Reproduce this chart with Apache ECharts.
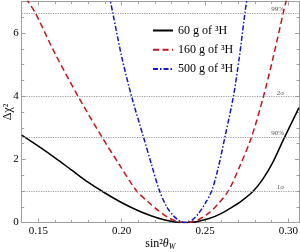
<!DOCTYPE html>
<html>
<head>
<meta charset="utf-8">
<script src="https://cdn.jsdelivr.net/npm/echarts@6/dist/echarts.min.js"></script>
<style>html,body{margin:0;padding:0;background:#fff}#c{width:300px;height:252px}</style>
</head>
<body>
<div id="c"></div>
<script>
// ---- data ----
const names = ['60 g of ³H', '160 g of ³H', '500 g of ³H'];

const blackX = [0.140,0.150,0.160,0.170,0.180,0.188,0.199,0.209,0.218,0.226,0.232,0.237,0.242,0.245,0.252,0.259,0.265,0.272,0.279,0.285,0.291,0.297,0.3064];
const blackY = [2.77,2.42,2.05,1.66,1.27,1.00,0.66,0.40,0.21,0.08,0.02,0.00,0.01,0.03,0.12,0.27,0.45,0.69,1.00,1.40,1.94,2.62,3.64];

const redX = [0.1425,0.148,0.160,0.174,0.188,0.199,0.209,0.216,0.222,0.229,0.234,0.238,0.242,0.246,0.253,0.258,0.264,0.271,0.278,0.285,0.291,0.297,0.2995];
const redY = [7.10,6.65,5.35,3.98,2.72,1.80,1.00,0.65,0.38,0.13,0.03,0.00,0.02,0.09,0.33,0.60,1.00,1.80,2.72,3.98,5.25,6.65,7.20];

const blueX = [0.1925,0.1946,0.200,0.206,0.213,0.218,0.2226,0.227,0.231,0.234,0.236,0.238,0.240,0.242,0.246,0.250,0.254,0.258,0.262,0.267,0.2705,0.274,0.2755];
const blueY = [7.20,6.65,5.25,3.98,2.72,1.82,1.02,0.50,0.22,0.08,0.02,0.00,0.02,0.07,0.28,0.60,1.00,1.75,2.72,3.98,5.20,6.65,7.20];

const levels = [6.63, 4, 2.71, 1];
const levelLabels = ['99%', '2σ', '90%', '1σ'];

const xMajor = [0.15, 0.20, 0.25, 0.30];
const xMinor = [0.14,0.15,0.16,0.17,0.18,0.19,0.20,0.21,0.22,0.23,0.24,0.25,0.26,0.27,0.28,0.29,0.30];
const yMajor = [0, 2, 4, 6];
const yMinor = [0,0.5,1,1.5,2,2.5,3,3.5,4,4.5,5,5.5,6,6.5,7];

const X_MIN = 0.14, X_MAX = 0.3064, Y_MIN = 0, Y_MAX = 7;

// ---- chart ----
const FONT = 'Liberation Serif';
const frame = '#a0a0a0';
function pairs(xs, ys) { return xs.map((x, i) => [x, ys[i]]); }

function xAx(pos, ticks, len, withLabel, showLine) {
  return {
    type: 'value', position: pos, min: X_MIN, max: X_MAX, gridIndex: 0,
    axisLine: { show: showLine, onZero: false, lineStyle: { color: frame, width: 1 } },
    axisTick: { show: true, inside: true, length: len, customValues: ticks, lineStyle: { color: frame } },
    axisLabel: withLabel ? { show: true, customValues: xMajor, formatter: v => v.toFixed(2), fontFamily: FONT, fontSize: 11, color: '#000', margin: 3 } : { show: false },
    splitLine: { show: false }
  };
}
function yAx(pos, ticks, len, withLabel, showLine) {
  return {
    type: 'value', position: pos, min: Y_MIN, max: Y_MAX, gridIndex: 0,
    axisLine: { show: showLine, onZero: false, lineStyle: { color: frame, width: 1 } },
    axisTick: { show: true, inside: true, length: len, customValues: ticks, lineStyle: { color: frame } },
    axisLabel: withLabel ? { show: true, customValues: yMajor, formatter: v => String(v), fontFamily: FONT, fontSize: 11, color: '#000', margin: 3 } : { show: false },
    splitLine: { show: false }
  };
}

const xAxes = [
  xAx('bottom', xMajor, 4, true, true),
  xAx('bottom', xMinor, 2.5, false, false),
  xAx('top', xMajor, 4, false, true),
  xAx('top', xMinor, 2.5, false, false)
];
Object.assign(xAxes[0], {
  name: '{a|sin²}{t|θ}{w|W}', nameLocation: 'middle', nameGap: 14, nameMoveOverlap: false,
  nameTextStyle: { fontFamily: FONT, color: '#000', rich: {
    a: { fontFamily: FONT, fontSize: 12, color: '#000' },
    t: { fontFamily: FONT, fontSize: 12, fontStyle: 'italic', color: '#000' },
    w: { fontFamily: FONT, fontSize: 8, fontStyle: 'italic', color: '#000', padding: [6, 0, 0, 0] }
  } }
});
const yAxes = [
  yAx('left', yMajor, 4, true, true),
  yAx('left', yMinor, 2.5, false, false),
  yAx('right', yMajor, 4, false, true),
  yAx('right', yMinor, 2.5, false, false)
];
Object.assign(yAxes[0], {
  name: 'Δχ²', nameLocation: 'middle', nameGap: 8, nameRotate: 90, nameMoveOverlap: false,
  nameTextStyle: { fontFamily: FONT, fontSize: 12, color: '#000' }
});

const lineBase = { type: 'line', xAxisIndex: 0, yAxisIndex: 0, symbol: 'none', showSymbol: false, smooth: 0.3, clip: true, animation: false };

const option = {
  animation: false,
  grid: { left: 21.7, right: 1, top: 1.4, bottom: 29.4, containLabel: false, outerBoundsMode: 'none' },
  xAxis: xAxes,
  yAxis: yAxes,
  legend: {
    orient: 'vertical', left: 147, top: 19.5, itemWidth: 20, itemHeight: 14, itemGap: 7.3,
    data: names,
    itemStyle: { opacity: 0 },
    textStyle: { fontFamily: FONT, fontSize: 12, color: '#000' }
  },
  series: [
    Object.assign({}, lineBase, {
      name: names[0], data: pairs(blackX, blackY), z: 3,
      lineStyle: { color: '#000', width: 1.5, type: 'solid' }, itemStyle: { color: '#000' },
      markLine: {
        silent: true, symbol: 'none', animation: false,
        lineStyle: { color: '#9a9a9a', width: 1, type: [1.2, 1.2] },
        label: { show: true, position: 'insideEndTop', distance: [15, 0], fontFamily: FONT, fontSize: 7, color: '#555',
                 formatter: p => levelLabels[levels.indexOf(p.value)] },
        data: levels.map(v => ({ yAxis: v }))
      }
    }),
    Object.assign({}, lineBase, {
      name: names[1], data: pairs(redX, redY), z: 4,
      lineStyle: { color: '#c4141c', width: 1.5, type: [6, 3.5] }, itemStyle: { color: '#c4141c' }
    }),
    Object.assign({}, lineBase, {
      name: names[2], data: pairs(blueX, blueY), z: 5,
      lineStyle: { color: '#1414c8', width: 1.5, type: [5, 2, 1.5, 2] }, itemStyle: { color: '#1414c8' }
    })
  ]
};

const chart = echarts.init(document.getElementById('c'), null, { renderer: 'canvas', width: 300, height: 252 });
chart.setOption(option);
</script>
</body>
</html>
